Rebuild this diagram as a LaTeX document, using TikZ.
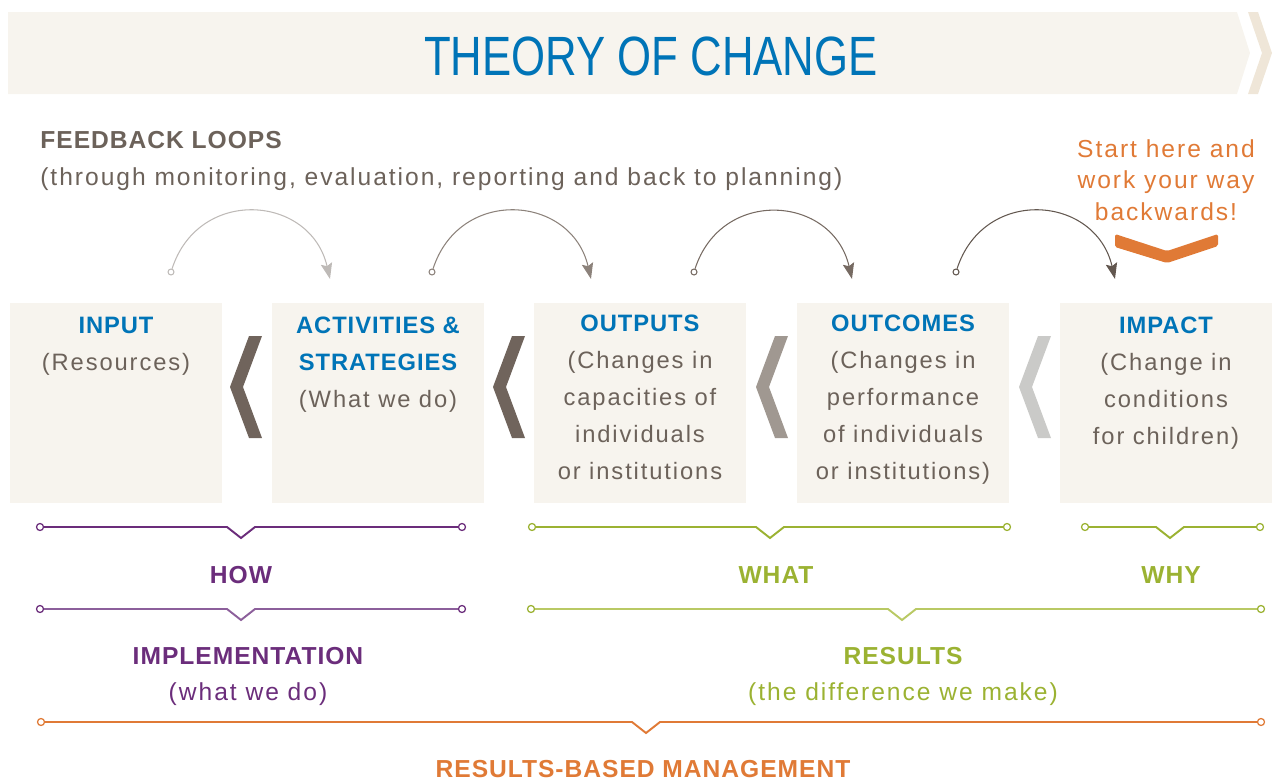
\documentclass[tikz,border=0pt]{standalone}
\usepackage{fontspec}
\setmainfont[LetterSpace=8,BoldFeatures={LetterSpace=4}]{Liberation Sans}
\newfontfamily\titlefont[FakeStretch=0.79]{Liberation Sans}
\usetikzlibrary{arrows.meta}

\definecolor{tocblue}{RGB}{0,116,183}
\definecolor{tocbg}{RGB}{247,244,238}
\definecolor{tocsand}{RGB}{239,230,216}
\definecolor{tocbrown}{RGB}{112,100,92}
\definecolor{tocmid}{RGB}{160,152,145}
\definecolor{toclight}{RGB}{202,202,200}
\definecolor{toctext}{RGB}{108,98,90}
\definecolor{tocorange}{RGB}{224,122,54}
\definecolor{tocpurple}{RGB}{107,45,123}
\definecolor{tocpurplelt}{RGB}{140,95,155}
\definecolor{tocgreen}{RGB}{155,178,50}
\definecolor{tocgreenlt}{RGB}{185,201,100}
\definecolor{loopa}{RGB}{190,186,183}
\definecolor{loopb}{RGB}{140,130,123}
\definecolor{loopc}{RGB}{118,106,98}
\definecolor{loopd}{RGB}{98,87,79}

\tikzset{
  box/.style={fill=tocbg,minimum width=4.24cm,minimum height=4cm,inner sep=0pt},
  boxtext/.style={anchor=north,align=center,inner sep=0pt,text=toctext,font=\fontsize{13.5}{21}\selectfont},
  lbl/.style={anchor=base,inner sep=0pt,font=\fontsize{14}{18}\selectfont\bfseries},
  sublbl/.style={anchor=base,inner sep=0pt,font=\fontsize{14}{18}\selectfont},
  ldot/.style={circle,draw,fill=white,line width=0.6pt,minimum size=3.4pt,inner sep=0pt},
  bdot/.style={circle,draw,fill=white,line width=0.7pt,minimum size=4pt,inner sep=0pt},
  fback/.style={line width=0.6pt,-{Stealth[length=9pt,width=6.5pt,inset=1.5pt]},looseness=1.4},
  brace/.style={line width=1.1pt,line join=miter},
}

\begin{document}
\begin{tikzpicture}[x=0.02cm,y=-0.02cm]
\useasboundingbox (0,0) rectangle (1276,781);

% title banner
\fill[tocbg] (8,12) -- (1237,12) -- (1250,53) -- (1237,94) -- (8,94) -- cycle;
\fill[tocsand] (1248,12) -- (1258,12) -- (1272,53) -- (1258,94) -- (1248,94) -- (1262,53) -- cycle;
\node[anchor=base,inner sep=0pt,text=tocblue,font=\titlefont\fontsize{31.5}{36}\selectfont] (title) at (651,75) {THEORY OF CHANGE};

% feedback loops
\node[anchor=base west,inner sep=0pt,text=toctext,font=\fontsize{14}{18}\selectfont\bfseries] (fbhead) at (40,148) {FEEDBACK LOOPS};
\node[anchor=base west,inner sep=0pt,text=toctext,font=\fontsize{14}{18}\selectfont] (fbsub) at (40,185) {(through monitoring, evaluation, reporting and back to planning)};

\node[anchor=north,align=center,inner sep=0pt,text=tocorange,font=\fontsize{14}{18}\selectfont] (start) at (1166,139) {Start here and\\work your way\\backwards!};
\fill[tocorange,rounded corners=1pt] (1115,234) -- (1167,251) -- (1218,234) -- (1218,246) -- (1167,263) -- (1115,247) -- cycle;

% boxes
\node[box] (input) at (116,403) {};
\node[box] (activ) at (378,403) {};
\node[box] (outp) at (640,403) {};
\node[box] (outc) at (903,403) {};
\node[box] (impact) at (1166,403) {};

\node[boxtext] (inputtxt) at (116,317) {\textbf{\color{tocblue}INPUT}\\(Resources)};
\node[boxtext] (activtxt) at (378,317) {\textbf{\color{tocblue}ACTIVITIES \&}\\\textbf{\color{tocblue}STRATEGIES}\\(What we do)};
\node[boxtext] (outptxt) at (640,315) {\textbf{\color{tocblue}OUTPUTS}\\(Changes in\\capacities of\\individuals\\or institutions};
\node[boxtext] (outctxt) at (903,315) {\textbf{\color{tocblue}OUTCOMES}\\(Changes in\\performance\\of individuals\\or institutions)};
\node[boxtext] (impacttxt) at (1166,317) {\textbf{\color{tocblue}IMPACT}\\(Change in\\conditions\\for children)};

% chevrons between the boxes
\foreach \dx/\col in {0/tocbrown,263/tocbrown,526/tocmid,789/toclight}
  \fill[\col,shift={(\dx,0)}] (249,336) -- (262,336) -- (243,387) -- (262,438) -- (249,438) -- (230,387) -- cycle;

% feedback arrows
\node[ldot,draw=loopa] (fa) at (171,272) {};
\coordinate (ta) at (330,279);
\draw[fback,loopa] (fa) to[out=72,in=103] (ta);
\node[ldot,draw=loopb] (fb) at (432,272) {};
\coordinate (tb) at (591,279);
\draw[fback,loopb] (fb) to[out=72,in=103] (tb);
\node[ldot,draw=loopc] (fc) at (694,272) {};
\coordinate (tc) at (852,279);
\draw[fback,loopc] (fc) to[out=72,in=103] (tc);
\node[ldot,draw=loopd] (fd) at (956,272) {};
\coordinate (td) at (1115,279);
\draw[fback,loopd] (fd) to[out=72,in=103] (td);

% how / what / why
\node[bdot,draw=tocpurple] (how1) at (40,527) {};
\node[bdot,draw=tocpurple] (how2) at (462,527) {};
\draw[brace,tocpurple] (how1) -- (227,527) -- (241,538) -- (255,527) -- (how2);
\node[bdot,draw=tocgreen] (what1) at (532,527) {};
\node[bdot,draw=tocgreen] (what2) at (1007,527) {};
\draw[brace,tocgreen] (what1) -- (756,527) -- (770,538) -- (784,527) -- (what2);
\node[bdot,draw=tocgreen] (why1) at (1085,527) {};
\node[bdot,draw=tocgreen] (why2) at (1260,527) {};
\draw[brace,tocgreen] (why1) -- (1156,527) -- (1170,538) -- (1184,527) -- (why2);

\node[lbl,text=tocpurple] (how) at (241,583) {HOW};
\node[lbl,text=tocgreen] (what) at (776,583) {WHAT};
\node[lbl,text=tocgreen] (why) at (1171,583) {WHY};

% implementation / results
\node[bdot,draw=tocpurple] (impl1) at (40,609) {};
\node[bdot,draw=tocpurple] (impl2) at (462,609) {};
\draw[brace,tocpurplelt] (impl1) -- (227,609) -- (241,620) -- (255,609) -- (impl2);
\node[bdot,draw=tocgreen] (res1) at (531,609) {};
\node[bdot,draw=tocgreen] (res2) at (1261,609) {};
\draw[brace,tocgreenlt] (res1) -- (888,609) -- (902,620) -- (916,609) -- (res2);

\node[lbl,text=tocpurple] (impl) at (248,664) {IMPLEMENTATION};
\node[sublbl,text=tocpurple] (implsub) at (248,700) {(what we do)};
\node[lbl,text=tocgreen] (res) at (903,664) {RESULTS};
\node[sublbl,text=tocgreen] (ressub) at (903,700) {(the difference we make)};

% results-based management
\node[bdot,draw=tocorange] (rbm1) at (41,722) {};
\node[bdot,draw=tocorange] (rbm2) at (1261,722) {};
\draw[brace,tocorange] (rbm1) -- (632,722) -- (646,733) -- (660,722) -- (rbm2);
\node[lbl,text=tocorange] (rbm) at (643,777) {RESULTS-BASED MANAGEMENT};
\end{tikzpicture}
\end{document}
